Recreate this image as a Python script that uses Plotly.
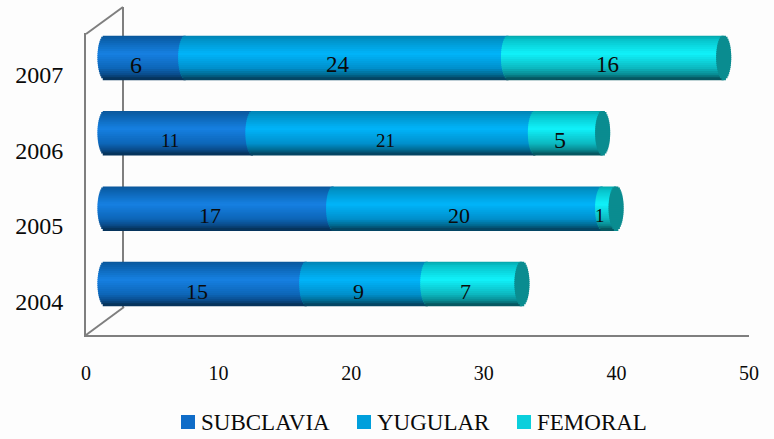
import math
import plotly.graph_objects as go

# Catheter counts per year and access site
years = [2004, 2005, 2006, 2007]
series_names = ["SUBCLAVIA", "YUGULAR", "FEMORAL"]
subclavia = [15, 17, 11, 6]
yugular = [9, 20, 21, 24]
femoral = [7, 1, 5, 16]
series_values = [subclavia, yugular, femoral]
x_ticks = [0, 10, 20, 30, 40, 50]

# Value label sizes, one list per series, same order as years
label_sizes = [[22, 22, 19, 24], [22, 22, 19, 23], [22, 19, 24, 23]]

WIDTH, HEIGHT = 774, 439
BG = "#FDFDFD"
FRAME = "#7F7F7F"
INK = "#0A0A0A"
FONT = "Liberation Serif"


def px(x):
    return x / WIDTH


def py(y):
    return (HEIGHT - y) / HEIGHT


# Vertical shading of each cylinder: position from top edge, colour
shading = [
    [(0, "#0A5596"), (0.12, "#0B62AE"), (0.42, "#1680E2"), (0.75, "#0D66B8"), (0.9, "#0A4A88"), (1, "#052E50")],
    [(0, "#007FAF"), (0.12, "#0093C8"), (0.42, "#00B4FA"), (0.75, "#0090CC"), (0.9, "#00688F"), (1, "#053C58")],
    [(0, "#03A0A5"), (0.12, "#07C4CC"), (0.42, "#10F2FA"), (0.75, "#0CB8C0"), (0.9, "#088890"), (1, "#064A55")],
]
legend_colors = ["#0F6CC8", "#009FDC", "#0BCFDC"]
CAP_COLOR = "#0A8C90"


def blend(stops, p):
    for (p0, c0), (p1, c1) in zip(stops, stops[1:]):
        if p <= p1:
            f = (p - p0) / (p1 - p0)
            a = [int(c0[i:i + 2], 16) for i in (1, 3, 5)]
            b = [int(c1[i:i + 2], 16) for i in (1, 3, 5)]
            return "rgb({},{},{})".format(*[round(u + (v - u) * f) for u, v in zip(a, b)])
    return stops[-1][1]


# Bar geometry in axis units
BANDS = 22
THICK = 0.59
BULGE = 0.56
band = THICK / BANDS


def band_width(i):
    # Bands are painted top-down and overlap upward so no seams show between them
    return band if i == BANDS - 1 else band * 1.5


# Running totals: where every segment starts and where each stack ends
starts = []
running = [0] * len(years)
for values in series_values:
    starts.append(list(running))
    running = [r + v for r, v in zip(running, values)]
totals = running

fig = go.Figure()

# Empty trace keeps the front-plane axes on the page
fig.add_trace(go.Scatter(x=[None], y=[None], xaxis="x", yaxis="y", showlegend=False, hoverinfo="skip"))

for values, begin, stops in zip(series_values, starts, shading):
    for i in reversed(range(BANDS)):
        t = (i + 0.5) / BANDS * 2 - 1
        bulge = BULGE * math.sqrt(1 - t * t)
        fig.add_trace(go.Bar(
            orientation="h", xaxis="x2", yaxis="y2", y=years,
            x=[v + bulge for v in values],
            base=[b - bulge for b in begin],
            width=band_width(i), offset=-THICK / 2 + i * band,
            marker=dict(color=blend(stops, 1 - (i + 0.5) / BANDS), line=dict(width=0)),
            showlegend=False, hoverinfo="skip",
        ))

# Elliptical end caps
for i in reversed(range(BANDS)):
    t = (i + 0.5) / BANDS * 2 - 1
    half = BULGE * math.sqrt(1 - t * t)
    fig.add_trace(go.Bar(
        orientation="h", xaxis="x2", yaxis="y2", y=years,
        x=[2 * half] * len(years), base=[total - half for total in totals],
        width=band_width(i), offset=-THICK / 2 + i * band,
        marker=dict(color=CAP_COLOR, line=dict(width=0)),
        showlegend=False, hoverinfo="skip",
    ))

# Value labels on the segments
annotations = []
for values, begin, sizes in zip(series_values, starts, label_sizes):
    for year, value, start, size in zip(years, values, begin, sizes):
        annotations.append(dict(
            x=start + value / 2, y=year, xref="x2", yref="y2", text=str(value),
            xanchor="center", yanchor="middle",
            showarrow=False, xshift=-9, yshift=-7, font=dict(family=FONT, size=size, color=INK),
        ))

# Legend row
legend_swatches = [181, 357, 517]
shapes = []
for name, color, left in zip(series_names, legend_colors, legend_swatches):
    shapes.append(dict(type="rect", xref="paper", yref="paper", x0=px(left), x1=px(left + 14),
                       y0=py(429), y1=py(415), fillcolor=color, line=dict(width=0)))
    annotations.append(dict(x=px(left + 18), y=py(422), xref="paper", yref="paper", text=name,
                            xanchor="left", yanchor="middle", showarrow=False,
                            font=dict(family=FONT, size=23, color=INK)))

# Side and floor edges of the depth frame
for x0, y0, x1, y1 in [(86, 34, 123, 7), (123, 7, 123, 307), (86, 335, 124, 307)]:
    shapes.append(dict(type="line", xref="paper", yref="paper", layer="below",
                       x0=px(x0), y0=py(y0), x1=px(x1), y1=py(y1), line=dict(color=FRAME, width=2)))

# The bars sit mid-depth, so they use their own pair of axes
X2_MIN = -2
X2_SCALE = 13.45
x2_left = 105 + X2_MIN * X2_SCALE
x2_right = 749

fig.update_layout(
    width=WIDTH, height=HEIGHT, autosize=False, paper_bgcolor=BG, plot_bgcolor="rgba(0,0,0,0)",
    margin=dict(l=0, r=0, t=0, b=0), barmode="overlay", showlegend=False,
    shapes=shapes, annotations=annotations,
    xaxis=dict(domain=[px(86), px(749)], range=[0, 50], tickvals=x_ticks, showgrid=False, zeroline=False,
               automargin=False, showline=True, linecolor=FRAME, linewidth=2, ticks="", ticklabelstandoff=19,
               tickfont=dict(family=FONT, size=20, color=INK), anchor="y"),
    yaxis=dict(domain=[py(335), py(33)], range=[2003.5, 2007.5], tickvals=years, tickformat="d",
               automargin=False, showgrid=False, zeroline=False, showline=True, linecolor=FRAME, linewidth=2,
               ticks="", ticklabelstandoff=16, ticklabelshift=4,
               tickfont=dict(family=FONT, size=24, color=INK), anchor="x"),
    xaxis2=dict(domain=[px(x2_left), px(x2_right)], range=[X2_MIN, (x2_right - 105) / X2_SCALE],
                automargin=False, visible=False, anchor="y2"),
    yaxis2=dict(domain=[py(321.7), py(20.3)], range=[2003.5, 2007.5],
                automargin=False, visible=False, anchor="x2"),
)

fig.write_html("out.html", config={"displayModeBar": False})
